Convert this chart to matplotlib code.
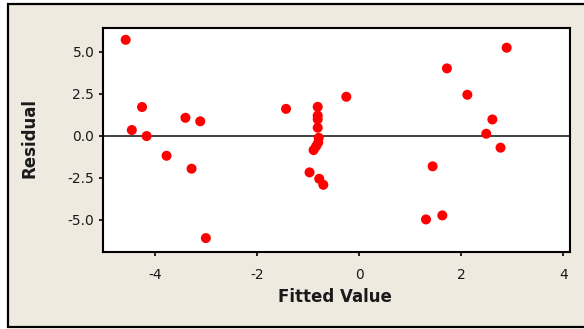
import matplotlib
matplotlib.use("Agg")
import matplotlib.pyplot as plt
from matplotlib.patches import Rectangle

# Residuals versus fitted values
fitted = [-4.57, -4.25, -4.45, -4.16, -3.40, -3.11, -3.77, -3.28, -3.00, -1.43,
          -0.25, -0.81, -0.81, -0.81, -0.81, -0.79, -0.80, -0.84, -0.89, -0.97,
          -0.78, -0.70, 1.72, 2.12, 1.44, 1.31, 1.63, 2.89, 2.61, 2.49, 2.77]
residual = [5.71, 1.71, 0.34, -0.02, 1.07, 0.86, -1.19, -1.96, -6.09, 1.60,
            2.32, 1.72, 1.20, 0.98, 0.48, -0.12, -0.40, -0.62, -0.85, -2.18,
            -2.56, -2.92, 4.01, 2.44, -1.82, -4.98, -4.74, 5.24, 0.97, 0.12, -0.71]
x_ticks = [-4, -2, 0, 2, 4]
y_ticks = [-5.0, -2.5, 0.0, 2.5, 5.0]

plt.rcParams["axes.unicode_minus"] = False
plt.rcParams["font.family"] = ["DejaVu Sans"]

W, H = 584, 329
fig = plt.figure(figsize=(W / 100, H / 100), dpi=100, facecolor="white")

# beige panel with black frame, drawn behind the plotting axes
bg = fig.add_axes([0, 0, 1, 1], zorder=0)
bg.set_xlim(0, W)
bg.set_ylim(H, 0)
bg.axis("off")
bg.add_patch(Rectangle((8, 4), W + 20, 323, facecolor="#EEEAE0",
                       edgecolor="black", linewidth=1.6))

ax = fig.add_axes([102.7 / W, 1 - 251.7 / H, (570 - 102.7) / W, (251.7 - 27.7) / H],
                  zorder=2)
ax.set_facecolor("white")
ax.set_xlim(-5.02, 4.13)
ax.set_ylim(-6.90, 6.43)

ax.axhline(0, color="#333333", linewidth=1.3, zorder=1)
ax.scatter(fitted, residual, s=52, color="#FF0000", edgecolors="none", zorder=3)

ax.set_xticks(x_ticks)
ax.set_xticklabels([str(t) for t in x_ticks])
ax.set_yticks(y_ticks)
ax.set_yticklabels([f"{t:.1f}" for t in y_ticks])
ax.tick_params(axis="both", direction="out", length=3, width=1.2, color="black",
               labelsize=10, labelcolor="#1a1a1a")
ax.tick_params(axis="x", pad=9)
ax.tick_params(axis="y", pad=3)

for side in ["left", "right", "top", "bottom"]:
    ax.spines[side].set_linewidth(1.5)
    ax.spines[side].set_color("black")

ax.set_xlabel("Fitted Value", fontsize=12, fontweight="bold", color="#1a1a1a")
ax.set_ylabel("Residual", fontsize=12, fontweight="bold", color="#1a1a1a")
ax.xaxis.set_label_coords((334.5 - 102.7) / 467.3, (251.7 - 297) / 224)
ax.xaxis.label.set_va("center")
ax.yaxis.set_label_coords((30 - 102.7) / 467.3, (251.7 - 138.5) / 224)
ax.yaxis.label.set_va("center")

fig.savefig("out.png", dpi=100, facecolor="white")
